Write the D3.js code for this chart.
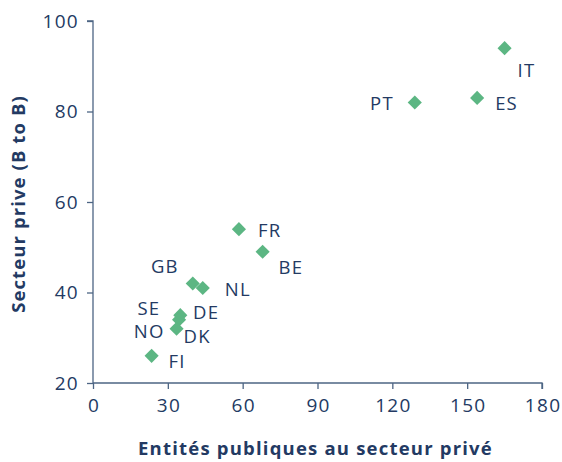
<!DOCTYPE html>
<html>
<head>
<meta charset="utf-8">
<script src="https://cdn.jsdelivr.net/npm/d3@7"></script>
<style>
  body { margin: 0; background: #fff; }
  svg text { font-family: "Open Sans", sans-serif; fill: #233a63; }
</style>
</head>
<body>
<div id="chart"></div>
<script>
// data
var countries = ["IT", "ES", "PT", "FR", "BE", "GB", "NL", "SE", "DE", "DK", "FI"];
var publicToPrivate = [165, 154, 129, 58.5, 68, 40, 44, 35, 34.5, 33.5, 23.5];
var privateB2B = [94, 83, 82, 54, 49, 42, 41, 35, 34, 32, 26];
// label anchor + offset, per country
var labelPos = {
  "IT": ["start", 13, 22], "ES": ["start", 18, 6], "PT": ["end", -21, 1],
  "FR": ["start", 19, 1], "BE": ["start", 16, 16], "GB": ["end", -14, -17],
  "NL": ["start", 22, 2], "SE": ["end", -20, -7], "DE": ["start", 14, -7],
  "DK": ["start", 7, 8], "FI": ["start", 17, 6]
};
var extraLabels = [{ text: "NO", ref: "DK", anchor: "end", dx: -12, dy: 3 }];

var xTicks = [0, 30, 60, 90, 120, 150, 180];
var yTicks = [20, 40, 60, 80, 100];

var width = 562, height = 462,
margin = { top: 21, right: 20, bottom: 79, left: 93 };

var svg = d3.select("#chart").append("svg")
.attr("width", width)
.attr("height", height);

var x = d3.scaleLinear().domain([0, 180]).range([margin.left, width - margin.right]);
var y = d3.scaleLinear().domain([20, 100]).range([height - margin.bottom, margin.top]);

var axisColor = "#4d6584";

var xAxis = svg.append("g")
.attr("transform", "translate(0," + y(20) + ")")
.call(d3.axisBottom(x).tickValues(xTicks).tickSize(6).tickPadding(10));

var yAxis = svg.append("g")
.attr("transform", "translate(" + x(0) + ",0)")
.call(d3.axisLeft(y).tickValues(yTicks).tickSize(6).tickPadding(8));

svg.selectAll(".domain, .tick line").attr("stroke", axisColor).attr("stroke-width", 1.3);
svg.selectAll(".tick text")
.style("font-size", "19px")
.style("letter-spacing", "1.3px")
.attr("fill", "#233a63");
xAxis.selectAll(".tick text").attr("dx", "0.6px");
xAxis.select(".domain").attr("d", "M" + x(0) + ",0H" + x(180) + "V6");
yAxis.select(".domain").attr("d", "M-6," + y(100) + "H0V" + y(20));

// axis titles
svg.append("text")
.attr("x", (x(0) + x(180)) / 2 - 2)
.attr("y", 455)
.attr("text-anchor", "middle")
.style("font-size", "18.5px")
.style("letter-spacing", "1.2px")
.style("font-weight", "bold")
.text("Entités publiques au secteur privé");

svg.append("text")
.attr("transform", "translate(25," + ((y(20) + y(100)) / 2 + 2) + ") rotate(-90)")
.attr("text-anchor", "middle")
.style("font-size", "18.5px")
.style("letter-spacing", "1.1px")
.style("font-weight", "bold")
.text("Secteur prive (B to B)");

var pts = countries.map(function(c, i){
  return { id: c, px: x(publicToPrivate[i]), py: y(privateB2B[i]) };
});

svg.append("g").selectAll("path")
.data(pts)
.enter()
.append("path")
.attr("d", d3.symbol().type(d3.symbolSquare).size(100))
.attr("transform", function(d){ return "translate(" + d.px + "," + d.py + ") rotate(45)"; })
.attr("fill", "#5cb683");

var lab = pts.map(function(d){
  var p = labelPos[d.id];
  return { text: d.id, x: d.px + p[1], y: d.py + p[2], anchor: p[0] };
});
extraLabels.forEach(function(e){
  var r = pts.filter(function(d){ return d.id === e.ref; })[0];
  lab.push({ text: e.text, x: r.px + e.dx, y: r.py + e.dy, anchor: e.anchor });
});

svg.append("g").selectAll("text")
.data(lab)
.enter()
.append("text")
.attr("x", function(d){ return d.x; })
.attr("y", function(d){ return d.y; })
.attr("dy", "0.35em")
.attr("text-anchor", function(d){ return d.anchor; })
.style("font-size", "18.5px")
.style("letter-spacing", "1.2px")
.text(function(d){ return d.text; });
</script>
</body>
</html>
